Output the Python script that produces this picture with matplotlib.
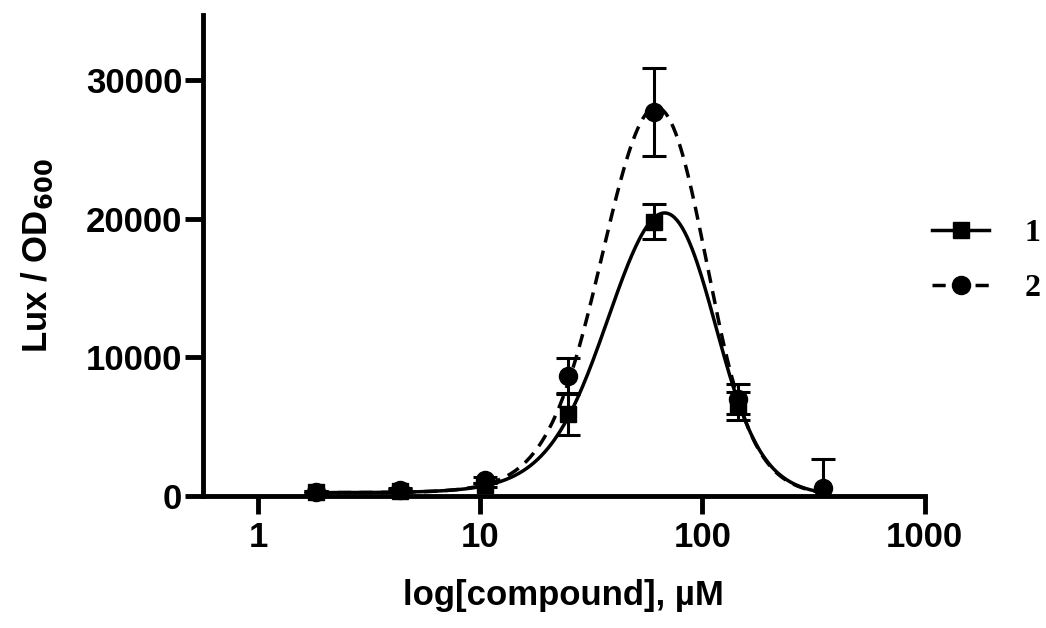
import numpy as np
import matplotlib.pyplot as plt
from matplotlib.lines import Line2D

# concentrations (uM) and luminescence / OD600
conc = [1.83, 4.37, 10.5, 24.9, 60.5, 145.0]
lux1 = [300, 400, 800, 5900, 19800, 6500]
err1 = [100, 100, 150, 1500, 1250, 1000]

conc2 = [1.83, 4.37, 10.5, 24.9, 60.5, 145.0, 347.0]
lux2 = [300, 450, 1150, 8700, 27700, 7000, 550]
err2_lo = [100, 150, 200, 1250, 3200, 1100, 550]
err2_hi = [100, 150, 200, 1250, 3200, 1100, 2100]

# bell-shaped fit parameters: base, top, logEC50 up, hill up, logEC50 down, hill down
fit1 = (250, 28100, 1.60, 3.0, 2.04, 4.0)
fit2 = (250, 38100, 1.57, 3.3, 2.00, 4.0)


def bell(x, b, top, e1, n1, e2, n2):
    lx = np.log10(x)
    rise = b + (top - b) / (1 + 10 ** ((e1 - lx) * n1))
    fall = 1 / (1 + 10 ** ((lx - e2) * n2))
    return rise * fall


plt.rcParams['font.family'] = ['Liberation Sans', 'DejaVu Sans']
plt.rcParams['font.weight'] = 'bold'

fig = plt.figure(figsize=(10.46, 6.28), dpi=100)
ax = fig.add_axes([0.194, 0.210, 0.690, 0.766])

xs = np.logspace(np.log10(1.83), np.log10(330), 400)
ax.plot(xs, bell(xs, *fit1), color='black', lw=2.5, clip_on=False)
ax.plot(xs, bell(xs, *fit2), color='black', lw=2.5, ls=(0, (3.8, 2.4)), clip_on=False)

ax.errorbar(conc, lux1, yerr=err1, fmt='s', color='black', ms=12, capsize=8.5,
            elinewidth=2.2, capthick=2.2, clip_on=False, zorder=4)
ax.errorbar(conc2, lux2, yerr=[err2_lo, err2_hi], fmt='o', color='black', ms=13, capsize=8.5,
            elinewidth=2.2, capthick=2.2, clip_on=False, zorder=4)

ax.set_xscale('log')
ax.set_xlim(0.565, 1000)
ax.set_ylim(0, 34700)
ax.set_xticks([1, 10, 100, 1000])
ax.set_xticklabels(['1', '10', '100', '1000'])
ax.xaxis.set_minor_locator(plt.NullLocator())
ax.set_yticks([0, 10000, 20000, 30000])
ax.set_yticklabels(['0', '10000', '20000', '30000'])

for s in ['top', 'right']:
    ax.spines[s].set_visible(False)
for s in ['left', 'bottom']:
    ax.spines[s].set_linewidth(3.5)
    ax.spines[s].set_capstyle('projecting')
ax.tick_params(axis='both', width=3.5, length=13, labelsize=25)
ax.tick_params(axis='y', pad=2)
ax.tick_params(axis='x', pad=5)

ax.set_xlabel('log[compound], µM', fontsize=25, fontweight='bold', labelpad=18)
ax.set_ylabel('Lux / OD$_{\\mathbf{600}}$', fontsize=25, fontweight='bold', labelpad=22)

h1 = Line2D([], [], color='black', lw=2.5, marker='s', ms=12)
h2 = Line2D([], [], color='black', lw=2.5, ls=(0, (3.8, 2.4)), marker='o', ms=13)
leg = ax.legend([h1, h2], ['1', '2'], loc='center left', bbox_to_anchor=(0.891, 0.585),
                bbox_transform=fig.transFigure, frameon=False, handlelength=1.8,
                labelspacing=0.8, handletextpad=1.1, borderpad=0, borderaxespad=0,
                prop={'family': 'Liberation Serif', 'weight': 'bold', 'size': 23})

fig.savefig('out.png', dpi=100)
